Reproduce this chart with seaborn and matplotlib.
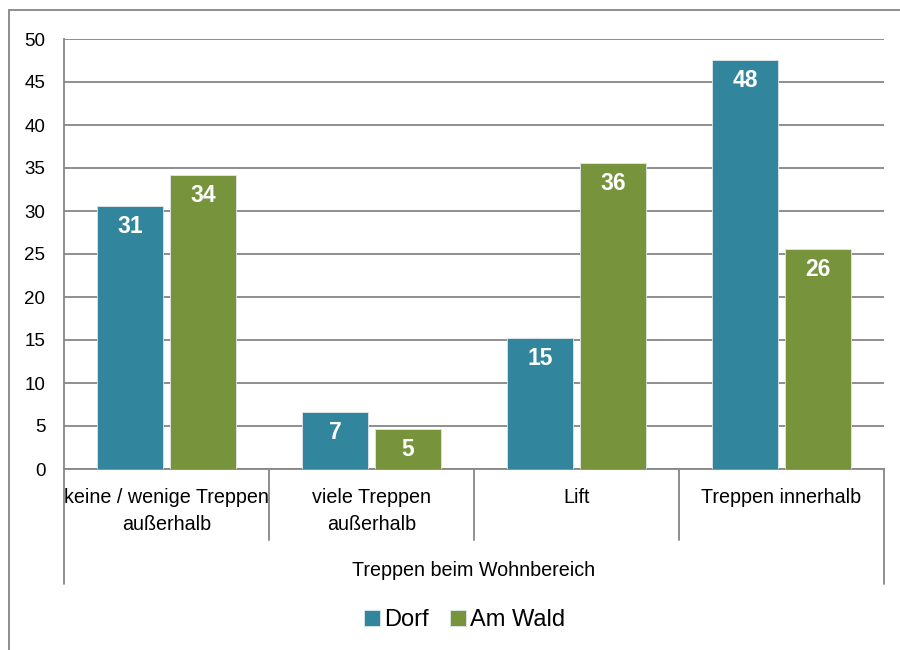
import matplotlib
matplotlib.use("Agg")
import matplotlib.pyplot as plt
from matplotlib.lines import Line2D
import matplotlib.transforms as mtrans
import pandas as pd
import seaborn as sns

# data
categories = ["keine / wenige Treppen\naußerhalb", "viele Treppen\naußerhalb",
              "Lift", "Treppen innerhalb"]
dorf = [30.6, 6.6, 15.2, 47.6]
am_wald = [34.2, 4.7, 35.6, 25.6]
series = ["Dorf", "Am Wald"]
group_title = "Treppen beim Wohnbereich"
yticks = [0, 5, 10, 15, 20, 25, 30, 35, 40, 45, 50]

colors = ["#31859C", "#77933C"]
GRID = "#868686"

df = pd.DataFrame({
    "cat": categories * 2,
    "serie": [series[0]] * 4 + [series[1]] * 4,
    "wert": dorf + am_wald,
})

sns.set_style("white")
plt.rcParams["font.family"] = ["Liberation Sans", "DejaVu Sans"]
plt.rcParams["text.color"] = "black"
plt.rcParams["xtick.labelcolor"] = "black"
plt.rcParams["ytick.labelcolor"] = "black"

fig = plt.figure(figsize=(9, 6.5), dpi=100)
ax = fig.add_axes([64/900, 1 - 469/650, 820/900, 430/650])

sns.barplot(data=df, x="cat", y="wert", hue="serie", order=categories,
            hue_order=series, palette=colors, width=0.71, gap=0.1,
            saturation=1, edgecolor="#dfe8ec", linewidth=0.6, ax=ax, zorder=3)

ax.set_ylim(0, 50)
ax.set_xlim(-0.5, 3.5)
ax.set_yticks(yticks)
ax.yaxis.grid(True, color=GRID, linewidth=1.3, zorder=0)
ax.set_axisbelow(True)
for s in ["top", "right"]:
    ax.spines[s].set_visible(False)
for s in ["left", "bottom"]:
    ax.spines[s].set_color(GRID)
    ax.spines[s].set_linewidth(1.3)
ax.tick_params(axis="y", length=4.5, width=1.3, color=GRID, pad=9,
               labelsize=13.5, labelcolor="black")
ax.tick_params(axis="x", length=0, pad=14, labelcolor="black")
ax.set_xticks(range(len(categories)))
ax.set_xticklabels(categories, fontsize=14.2, linespacing=1.5, va="top")
ax.set_xlabel("")
ax.set_ylabel("")

# value labels inside bar tops
for cont in ax.containers:
    labels = [f"{b.get_height():.0f}" for b in cont]
    ax.bar_label(cont, labels=labels, padding=-23, color="white",
                 fontsize=16.5, fontweight="bold")

# category separators below the axis
tr = mtrans.blended_transform_factory(ax.transData, ax.transAxes)
for i, xb in enumerate([-0.5, 0.5, 1.5, 2.5, 3.5]):
    yb = -115/430 if i in (0, 4) else -71/430
    ax.add_line(Line2D([xb, xb], [0, yb], transform=tr, color=GRID,
                       linewidth=1.3, clip_on=False))

ax.text(0.5, -101/430, group_title, transform=ax.transAxes, ha="center",
        va="center", fontsize=14.2, color="black")

handles, labs = ax.get_legend_handles_labels()
leg = ax.legend(handles, labs, loc="center", bbox_to_anchor=(465/900, 30/650),
                bbox_transform=fig.transFigure, ncol=2, frameon=False,
                fontsize=17, handlelength=0.65, handleheight=0.65,
                handletextpad=0.2, columnspacing=0.9)
for t in leg.get_texts():
    t.set_color("black")

# outer frame (top and left edges)
fig.add_artist(Line2D([8.5/900, 1], [1 - 9.5/650, 1 - 9.5/650],
                      transform=fig.transFigure, color=GRID, linewidth=1.3))
fig.add_artist(Line2D([8.5/900, 8.5/900], [0, 1 - 9.5/650],
                      transform=fig.transFigure, color=GRID, linewidth=1.3))

fig.savefig("out.png", dpi=100)
